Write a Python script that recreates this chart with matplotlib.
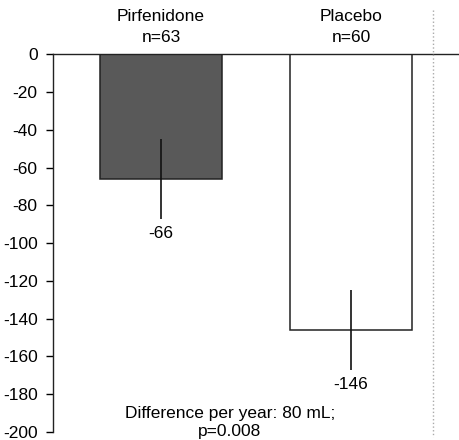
import matplotlib.pyplot as plt
from matplotlib.lines import Line2D

groups = ["Pirfenidone\nn=63", "Placebo\nn=60"]
values = [-66, -146]
errors = [21, 21]
bar_colors = ["#595959", "#ffffff"]
value_labels = ["-66", "-146"]
note = "Difference per year: 80 mL;\np=0.008"

plt.rcParams['font.family'] = ['Liberation Sans', 'DejaVu Sans']
plt.rcParams['axes.unicode_minus'] = False

fig = plt.figure(figsize=(4.6, 4.4), dpi=100)
ax = fig.add_axes([0.1152, 0.018, 0.8805, 0.859])

x = [0, 1]
ax.bar(x, values, width=0.642, color=bar_colors, edgecolor="#222222", linewidth=1.1, zorder=2)
ax.errorbar(x, values, yerr=errors, fmt="none", ecolor="#111111", elinewidth=1.2, capsize=0, zorder=3)

for xi, v, e, lab in zip(x, values, errors, value_labels):
    ax.text(xi, v - e - 4, lab, ha="center", va="top", fontsize=12.5)

for xi, g in zip(x, groups):
    ax.text(xi, 5, g, ha="center", va="bottom", fontsize=12.5, linespacing=1.45)

ax.text(0.437, 0.07, note, transform=ax.transAxes, ha="center", va="top", fontsize=12.5, linespacing=1.3)

ax.set_xlim(-0.568, 1.563)
ax.set_ylim(-200, 0)
ax.set_yticks(range(-200, 1, 20))
ax.set_xticks([])
ax.tick_params(axis="y", direction="out", length=5, width=1, labelsize=12.5, pad=6)
for s in ["right", "bottom"]:
    ax.spines[s].set_visible(False)
ax.spines["top"].set_linewidth(1.0)
ax.spines["left"].set_linewidth(1.0)
ax.spines["top"].set_color("#222222")
ax.spines["left"].set_color("#222222")

# faint dotted edge line seen in the source image
fig.add_artist(Line2D([433 / 460, 433 / 460], [1 - 10 / 440, 1 - 437 / 440],
                      color="#aaaaaa", linestyle=":", linewidth=1.0))

fig.savefig("out.png", dpi=100)
